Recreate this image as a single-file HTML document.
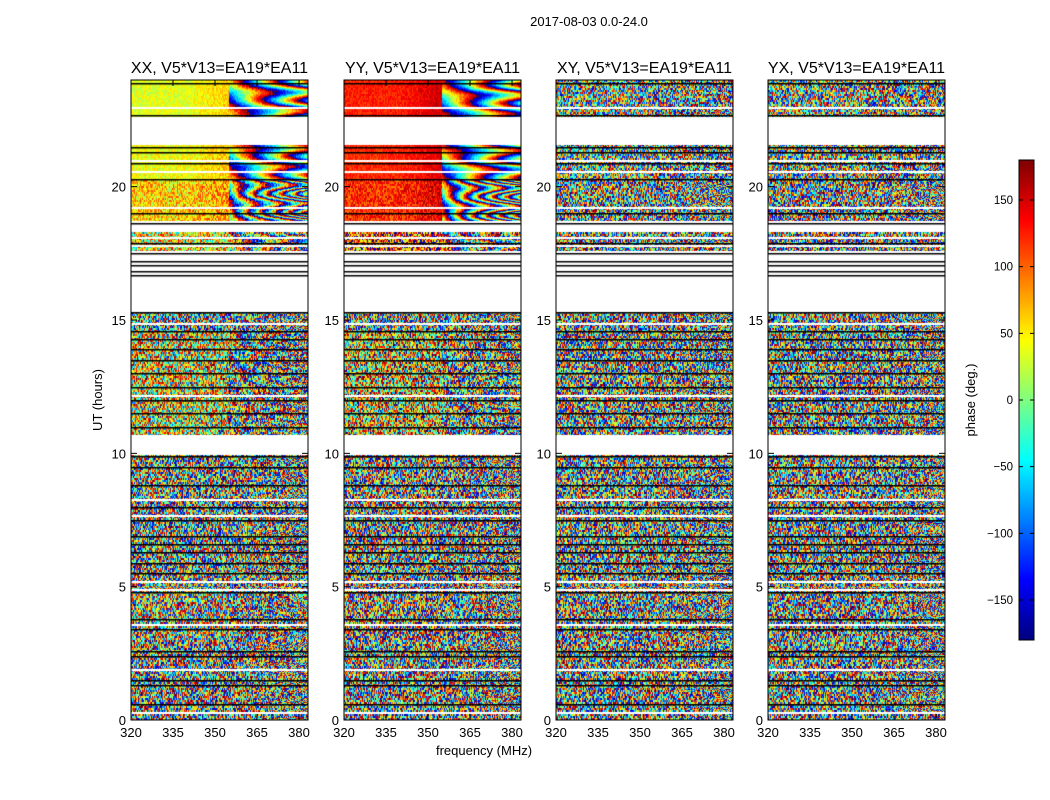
<!DOCTYPE html>
<html><head><meta charset="utf-8">
<style>
body{margin:0;background:#fff;width:1050px;height:800px;overflow:hidden;font-family:"Liberation Sans",sans-serif;}
#root{position:relative;width:1050px;height:800px;}
canvas{position:absolute;}
svg{position:absolute;left:0;top:0;}
</style></head><body>
<div id="root">
<canvas id="p0" width="177" height="640" style="left:131px;top:80px"></canvas>
<canvas id="p1" width="177" height="640" style="left:344px;top:80px"></canvas>
<canvas id="p2" width="177" height="640" style="left:556px;top:80px"></canvas>
<canvas id="p3" width="177" height="640" style="left:768px;top:80px"></canvas>
<canvas id="cb" width="15" height="480" style="left:1019px;top:160px"></canvas>
<svg id="ov" width="1050" height="800"></svg>
</div>
<script>
// ---- data ----
const panelTitles = ["XX, V5*V13=EA19*EA11","YY, V5*V13=EA19*EA11","XY, V5*V13=EA19*EA11","YX, V5*V13=EA19*EA11"];
const segStart = [22.6, 20.3, 18.7, 17.6, 14.6, 10.7, 5.0, 3.0, 0.0];
const segEnd   = [24.0, 21.56, 20.3, 18.3, 15.3, 14.6, 9.94, 5.0, 3.0];
const fringeRate = [22, 22, 55, 30, 45, 35, 40, 40, 45];
const xxBase  = [35, 40, 60, 40, 0, 40, 0, 20, 0];
const yyBase  = [125, 120, 120, 110, 0, 60, 0, 120, 0];
const xyBase  = [0, 0, 0, 0, 0, 0, 0, 0, 0];
const yxBase  = [0, 0, 0, 0, 0, 0, 0, 0, 0];
const xxNoise = [0.12, 0.15, 0.3, 0.6, 1, 0.8, 1, 0.9, 1];
const yyNoise = [0.1, 0.1, 0.2, 0.6, 1, 0.8, 1, 0.9, 1];
const xyNoise = [0.9, 0.9, 1, 1, 1, 1, 1, 1, 1];
const yxNoise = [0.9, 0.9, 1, 1, 1, 1, 1, 1, 1];
const blackLines = [23.9,22.7,21.5,21.3,20.9,20.3,19.0,18.65,17.9,17.5,17.2,17.05,16.85,16.7,15.3,14.6,14.3,13.9,13.5,13.0,12.5,12.0,11.5,11.0,9.9,9.5,8.8,8.0,7.5,6.9,6.6,6.3,5.9,5.5,4.8,3.8,3.4,2.6,2.4,1.5,1.3,0.6];
const whiteLines = [23.0,21.0,20.6,19.25,18.5,18.1,17.8,14.9,12.2,8.3,7.7,5.2,4.9,3.6,1.9,0.3];
const xTicks = [320,335,350,365,380];
const yTicks = [0,5,10,15,20];
const cbTicks = [150,100,50,0,-50,-100,-150];

// ---- scales ----
const fMin=320,fMax=383.2,tMin=0,tMax=24,W=177,H=640;
const xs = f => (f-fMin)/(fMax-fMin)*W;
const ys = t => H-(t-tMin)/(tMax-tMin)*H;
const panelX=[131,344,556,768],panelY=80;

function jet(v){
  const r=Math.min(Math.max(Math.min(4*v-1.5,-4*v+4.5),0),1);
  const g=Math.min(Math.max(Math.min(4*v-0.5,-4*v+3.5),0),1);
  const b=Math.min(Math.max(Math.min(4*v+0.5,-4*v+2.5),0),1);
  return [r*255|0,g*255|0,b*255|0];
}
function hash(a,b,c){let h=(a*374761393+b*668265263+c*2147483647)|0;h=(h^(h>>>13))*1274126177|0;return ((h^(h>>>16))>>>0)/4294967296;}

const bases=[xxBase,yyBase,xyBase,yxBase], noises=[xxNoise,yyNoise,xyNoise,yxNoise];
for(let p=0;p<4;p++){
  const cv=document.getElementById('p'+p),ctx=cv.getContext('2d');
  const img=ctx.createImageData(W,H),d=img.data;
  for(let y=0;y<H;y++){
    const t=tMax-(y+0.5)/H*(tMax-tMin);
    let s=-1;
    for(let i=0;i<segStart.length;i++) if(t>=segStart[i]&&t<segEnd[i]){s=i;break;}
    for(let x=0;x<W;x++){
      const k=(y*W+x)*4;
      if(s<0){d[k]=d[k+1]=d[k+2]=255;d[k+3]=255;continue;}
      const f=fMin+(x+0.5)/W*(fMax-fMin);
      let ph=bases[p][s]+noises[p][s]*(hash(x,y>>1,p*17+s)-0.5)*360;
      if(f>340&&f<=355) ph+=(f-340)*2*(1-noises[p][s]);
      if(f>355){const df=f-355;ph+=30*(1-noises[p][s])+fringeRate[s]*df*(1+0.3*Math.sin(t*9+p))+t*300;}
      ph=((ph+180)%360+360)%360;
      const c=jet(ph/360);
      d[k]=c[0];d[k+1]=c[1];d[k+2]=c[2];d[k+3]=255;
    }
  }
  ctx.putImageData(img,0,0);
  ctx.fillStyle='#fff';
  whiteLines.forEach(t=>ctx.fillRect(0,Math.round(ys(t)),W,2));
  ctx.fillStyle='#000';
  blackLines.forEach(t=>ctx.fillRect(0,Math.round(ys(t)),W,1.5));
}
{const cv=document.getElementById('cb'),ctx=cv.getContext('2d');
 for(let y=0;y<480;y++){const c=jet(1-(y+0.5)/480);ctx.fillStyle=`rgb(${c})`;ctx.fillRect(0,y,15,1);}}

const ov=document.getElementById('ov'),NS='http://www.w3.org/2000/svg';
function el(tag,attrs,text){const e=document.createElementNS(NS,tag);for(const k in attrs)e.setAttribute(k,attrs[k]);if(text!==undefined)e.textContent=text;ov.appendChild(e);return e;}
let e=el('text',{x:589,y:26,'font-size':13,'text-anchor':'middle',fill:'#000'},'2017-08-03 0.0-24.0');


for(let p=0;p<4;p++){
  const X=panelX[p];
  e=el('rect',{x:X,y:panelY,width:W,height:H,fill:'none',stroke:'#000','stroke-width':1});
  
  
  e=el('text',{x:X+W/2,y:73,'font-size':16,'text-anchor':'middle',fill:'#000'},panelTitles[p]);
  
  
  xTicks.forEach(v=>{const x=X+xs(v);
    el('line',{x1:x,x2:x,y1:panelY+H,y2:panelY+H-6,stroke:'#000'});
    el('line',{x1:x,x2:x,y1:panelY,y2:panelY+6,stroke:'#000'});
    e=el('text',{x:x,y:737,'font-size':13,'text-anchor':'middle',fill:'#000'},String(v));
    
    
  });
  yTicks.forEach(v=>{const y=panelY+ys(v);
    el('line',{x1:X,x2:X+6,y1:y,y2:y,stroke:'#000'});
    el('line',{x1:X+W,x2:X+W-6,y1:y,y2:y,stroke:'#000'});
    e=el('text',{x:X-5,y:y+5,'font-size':13,'text-anchor':'end',fill:'#000'},String(v));
    
    
  });
}
e=el('text',{x:484,y:755,'font-size':13,'text-anchor':'middle',fill:'#000'},'frequency (MHz)');


e=el('text',{x:0,y:0,'font-size':13,'text-anchor':'middle',fill:'#000',transform:'translate(102,400) rotate(-90)'},'UT (hours)');


el('rect',{x:1019,y:160,width:15,height:480,fill:'none',stroke:'#000','stroke-width':1});
cbTicks.forEach(v=>{const y=160+(180-v)/360*480;
  el('line',{x1:1019,x2:1023,y1:y,y2:y,stroke:'#000'});
  el('line',{x1:1030,x2:1034,y1:y,y2:y,stroke:'#000'});
  e=el('text',{x:1013,y:y+4,'font-size':11.5,'text-anchor':'end',fill:'#000'},v<0?'\u2212'+(-v):String(v));
  
  
});
e=el('text',{x:0,y:0,'font-size':13,'text-anchor':'middle',fill:'#000',transform:'translate(975,400) rotate(-90)'},'phase (deg.)');


</script>
</body></html>
